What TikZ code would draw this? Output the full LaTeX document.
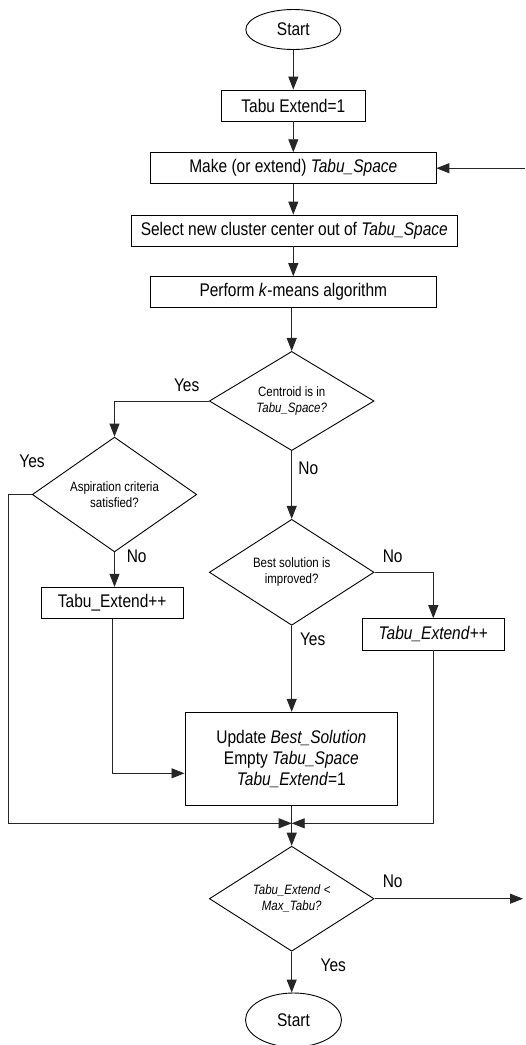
\documentclass[tikz,border=0pt]{standalone}
\usepackage{fontspec}
\setmainfont{Liberation Sans}
\usepackage{graphicx}
\usetikzlibrary{shapes.geometric,arrows.meta}
\newcommand{\vst}[1]{\scalebox{1}[1.18]{#1}}
\begin{document}
\begin{tikzpicture}[x=1pt,y=-1pt,
  base/.style={draw=black, line width=0.9pt, inner sep=0pt, align=center},
  procbox/.style={base, rectangle, font=\fontsize{15.5}{21}\selectfont},
  term/.style={base, ellipse, font=\fontsize{15.5}{21}\selectfont},
  decide/.style={base, diamond, font=\fontsize{11.5}{16}\selectfont},
  conn/.style={draw=black!85, line width=0.9pt},
  arr/.style={conn, -{Triangle[length=13pt,width=10pt]}},
  lab/.style={font=\fontsize{15.5}{18}\selectfont, inner sep=0pt}]
\fill[white] (0,0) rectangle (526,1045);
\useasboundingbox (0,0) rectangle (526,1045);

% nodes
\node[term, minimum width=95pt, minimum height=40pt] (start) at (293.3,29.5) {\vst{Start}};
\node[procbox, minimum width=143.3pt, minimum height=31pt] (b1) at (293.3,105.5) {\vst{Tabu Extend=1}};
\node[procbox, minimum width=285.3pt, minimum height=31pt] (b2) at (293.3,168.2) {\vst{Make (or extend) \textit{Tabu\_Space}}};
\node[procbox, minimum width=325.3pt, minimum height=31pt] (b3) at (294.3,230.5) {\vst{Select new cluster center out of \textit{Tabu\_Space}}};
\node[procbox, minimum width=285.3pt, minimum height=30.7pt] (b4) at (293.3,292) {\vst{Perform \textit{k}-means algorithm}};

\node[decide, minimum width=164.7pt, minimum height=92.3pt] (d1) at (291.7,401) {\vst{Centroid is in}\\\vst{\textit{Tabu\_Space?}}};
\node[decide, minimum width=164.4pt, minimum height=92.4pt] (d2) at (114.5,494.5) {\vst{Aspiration criteria}\\\vst{satisfied?}};
\node[decide, minimum width=164.7pt, minimum height=92.3pt] (d3) at (291.7,572.3) {\vst{Best solution is}\\\vst{improved?}};

\node[procbox, minimum width=142.3pt, minimum height=31.4pt] (bL) at (112.2,603) {\vst{Tabu\_Extend++}};
\node[procbox, minimum width=141.3pt, minimum height=31.3pt] (bR) at (433.3,634.3) {\vst{\textit{Tabu\_Extend}++}};

\node[procbox, minimum width=212.7pt, minimum height=93pt] (upd) at (291.3,758.8)
  {\vst{Update \textit{Best\_Solution}}\\\vst{Empty \textit{Tabu\_Space}}\\\vst{\textit{Tabu\_Extend}=1}};

\node[decide, minimum width=164.7pt, minimum height=92.7pt] (d4) at (291.7,898.7) {\vst{\textit{Tabu\_Extend} \textless}\\\vst{\textit{Max\_Tabu?}}};
\node[term, minimum width=96pt, minimum height=54pt] (stop) at (293.5,1020) {\vst{Start}};

% free ends and junctions
\coordinate (inR) at (525,168.2);
\coordinate (outR) at (523,898.7);
\coordinate (m) at (291.7,823.3);
\coordinate (lx) at (8.3,823.3);
\coordinate (bLend) at (112.3,773.3);

% connectors
\draw[arr] (start.south) -- (b1.north);
\draw[arr] (b1.south) -- (b2.north);
\draw[arr] (b2.south) -- (b3.north -| b2.south);
\draw[arr] (b3.south -| b4.north) -- (b4.north);
\draw[arr] (d1.north |- b4.south) -- (d1.north);
\draw[arr] (inR) -- (b2.east);
\draw[arr] (d1.west) -| (d2.north);
\draw[arr] (d1.south) -- (d3.north);
\draw[arr] (d2.south) -- (d2.south |- bL.north);
\draw[arr] (d2.west) -| (lx) -- (m);
\draw[arr] (bL.south -| bLend) -- (bLend) -- (upd.west |- bLend);
\draw[arr] (d3.east) -| (bR.north);
\draw[arr] (d3.south) -- (upd.north -| d3.south);
\draw[arr] (bR.south) |- (m);
\draw[arr] (upd.south -| d4.north) -- (d4.north);
\draw[arr] (d4.east) -- (outR);
\draw[arr] (d4.south) -- (stop.north -| d4.south);

% labels
\node[lab] (y1) at (186.7,385) {\vst{Yes}};
\node[lab] (y2) at (32,461.7) {\vst{Yes}};
\node[lab] (n1) at (308.3,468.3) {\vst{No}};
\node[lab] (n2) at (136.7,556) {\vst{No}};
\node[lab] (n3) at (392.7,556) {\vst{No}};
\node[lab] (y3) at (312.7,639.3) {\vst{Yes}};
\node[lab] (n4) at (392.7,881.7) {\vst{No}};
\node[lab] (y4) at (333.3,965.7) {\vst{Yes}};
\end{tikzpicture}
\end{document}
